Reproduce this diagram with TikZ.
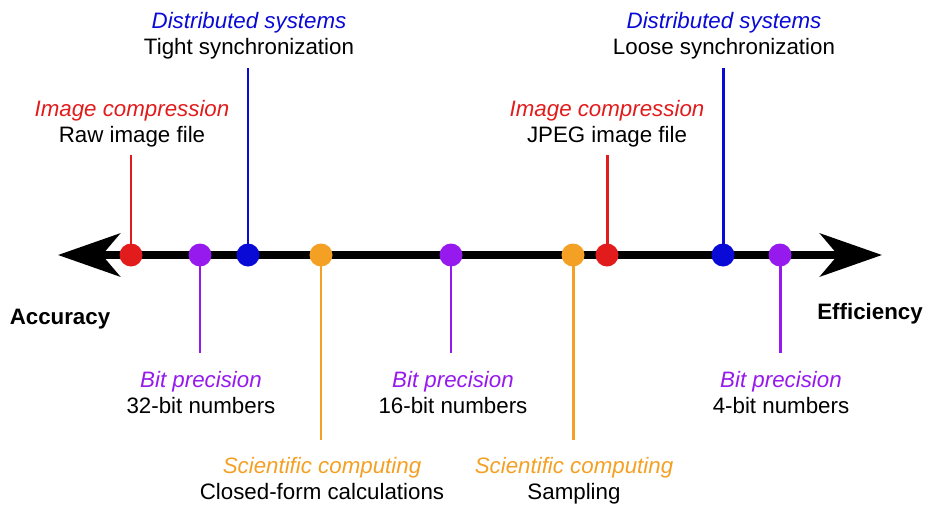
\documentclass[tikz,border=0pt]{standalone}
\usepackage{fontspec}
\setmainfont{Liberation Sans}
\usepackage{xcolor}
\usetikzlibrary{arrows.meta}

\definecolor{cred}{RGB}{226,28,28}
\definecolor{cblue}{RGB}{10,10,215}
\definecolor{cpurple}{RGB}{150,25,238}
\definecolor{corange}{RGB}{244,160,36}

\tikzset{
  dot/.style={circle, fill=#1, inner sep=0pt, minimum size=0.46cm},
  stem/.style={draw=#1, line width=1.7pt},
  lbl/.style={align=center, inner sep=0pt, font=\fontsize{12.7}{14.8}\selectfont},
  endlbl/.style={inner sep=0pt, font=\fontsize{12.7}{15}\selectfont\bfseries}
}

\begin{document}
\begin{tikzpicture}[x=0.02cm, y=-0.02cm]
    \useasboundingbox (0,0) rectangle (926,504);

    % --- Main axis with arrow heads at both ends ---
    \coordinate (left) at (58,255);
    \coordinate (right) at (882,255);
    \draw[line width=4.5pt, {Stealth[length=1.24cm, width=0.86cm, inset=0.36cm]}-{Stealth[length=1.24cm, width=0.86cm, inset=0.36cm]}] (left) -- (right);

    % --- Stem ends ---
    \coordinate (rawTop) at (131,155);
    \coordinate (tightTop) at (248,68);
    \coordinate (jpegTop) at (607,155);
    \coordinate (looseTop) at (723,68);
    \coordinate (b32Bot) at (200,353);
    \coordinate (b16Bot) at (451,353);
    \coordinate (b4Bot) at (780,353);
    \coordinate (closedBot) at (321,440);
    \coordinate (sampBot) at (573,440);

    % --- Stems ---
    \draw[stem=cred] (131,255) -- (rawTop);
    \draw[stem=cblue] (248,255) -- (tightTop);
    \draw[stem=cred] (607,255) -- (jpegTop);
    \draw[stem=cblue] (723,255) -- (looseTop);
    \draw[stem=cpurple] (200,255) -- (b32Bot);
    \draw[stem=cpurple] (451,255) -- (b16Bot);
    \draw[stem=cpurple] (780,255) -- (b4Bot);
    \draw[stem=corange] (321,255) -- (closedBot);
    \draw[stem=corange] (573,255) -- (sampBot);

    % --- Dots on the axis ---
    \node[dot=cred] (raw) at (131,255) {};
    \node[dot=cpurple] (b32) at (200,255) {};
    \node[dot=cblue] (tight) at (248,255) {};
    \node[dot=corange] (closed) at (321,255) {};
    \node[dot=cpurple] (b16) at (451,255) {};
    \node[dot=corange] (samp) at (573,255) {};
    \node[dot=cred] (jpeg) at (607,255) {};
    \node[dot=cblue] (loose) at (723,255) {};
    \node[dot=cpurple] (b4) at (780,255) {};

    % --- Labels above ---
    \node[lbl] (rawLbl) at (132,123.5) {\textcolor{cred}{\itshape Image compression}\\Raw image file};
    \node[lbl] (tightLbl) at (249,36) {\textcolor{cblue}{\itshape Distributed systems}\\Tight synchronization};
    \node[lbl] (jpegLbl) at (607,123.5) {\textcolor{cred}{\itshape Image compression}\\JPEG image file};
    \node[lbl] (looseLbl) at (724,36) {\textcolor{cblue}{\itshape Distributed systems}\\Loose synchronization};

    % --- Labels below ---
    \node[lbl] (b32Lbl) at (201,393) {\textcolor{cpurple}{\itshape Bit precision}\\32-bit numbers};
    \node[lbl] (b16Lbl) at (453,393) {\textcolor{cpurple}{\itshape Bit precision}\\16-bit numbers};
    \node[lbl] (b4Lbl) at (781,393) {\textcolor{cpurple}{\itshape Bit precision}\\4-bit numbers};
    \node[lbl] (closedLbl) at (322,479) {\textcolor{corange}{\itshape Scientific computing}\\Closed-form calculations};
    \node[lbl] (sampLbl) at (574,481) {\textcolor{corange}{\itshape Scientific computing}\\Sampling};

    % --- Axis ends ---
    \node[endlbl] (acc) at (60,319) {Accuracy};
    \node[endlbl] (eff) at (870,314) {Efficiency};
\end{tikzpicture}
\end{document}
